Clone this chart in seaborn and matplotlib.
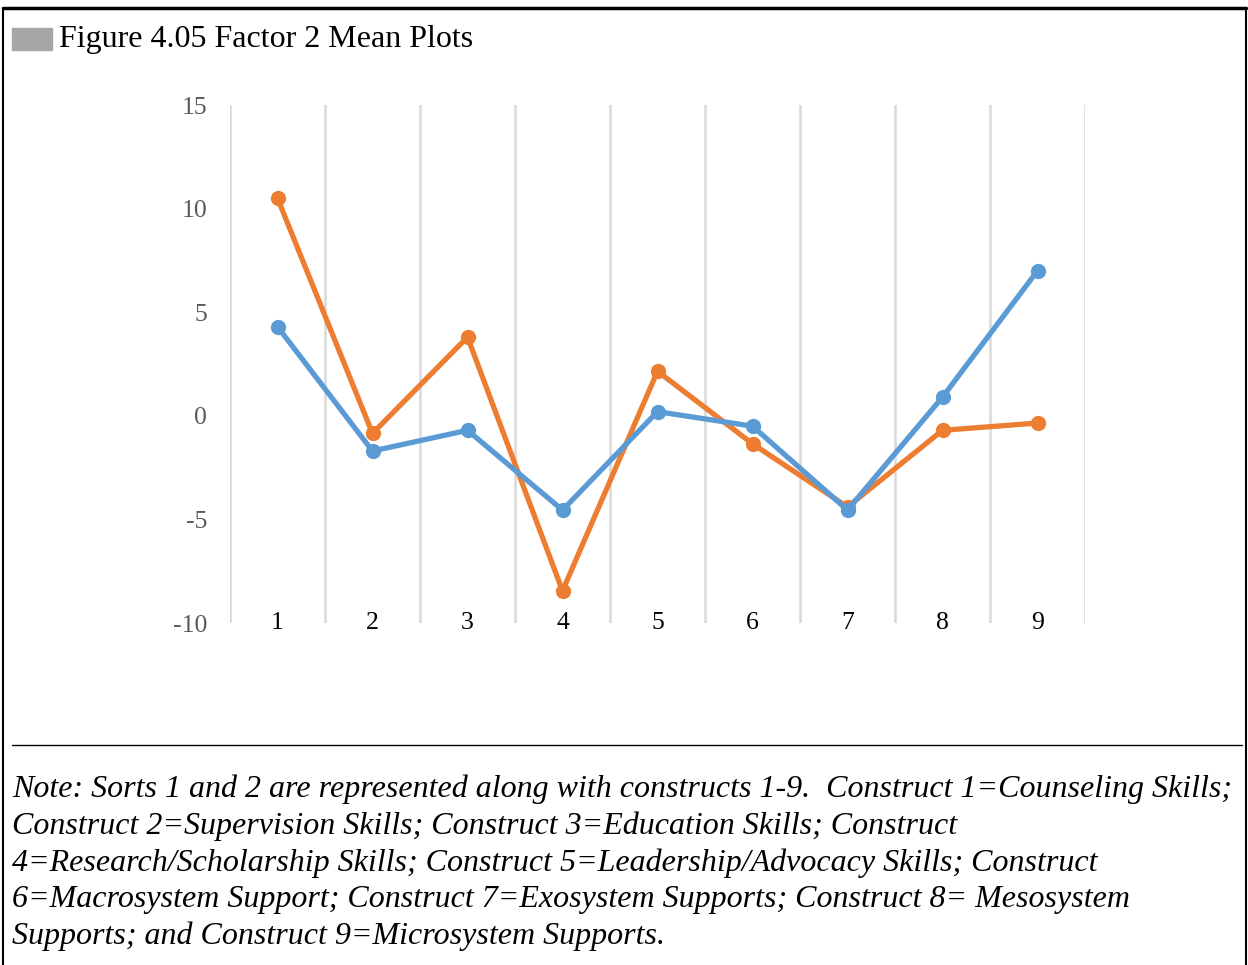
import pandas as pd
import matplotlib.pyplot as plt
import seaborn as sns
from matplotlib.patches import Rectangle
from matplotlib.lines import Line2D

# Data
constructs = ['1', '2', '3', '4', '5', '6', '7', '8', '9']
sort1 = [4.3, -1.7, -0.7, -4.55, 0.2, -0.5, -4.55, 0.9, 7.0]    # blue
sort2 = [10.5, -0.85, 3.8, -8.45, 2.15, -1.35, -4.4, -0.7, -0.35]  # orange
yticks = [15, 10, 5, 0, -5, -10]

title = 'Figure 4.05 Factor 2 Mean Plots'
note = ('Note: Sorts 1 and 2 are represented along with constructs 1-9.  Construct 1=Counseling Skills;\n'
        'Construct 2=Supervision Skills; Construct 3=Education Skills; Construct\n'
        '4=Research/Scholarship Skills; Construct 5=Leadership/Advocacy Skills; Construct\n'
        '6=Macrosystem Support; Construct 7=Exosystem Supports; Construct 8= Mesosystem\n'
        'Supports; and Construct 9=Microsystem Supports.')

df = pd.DataFrame({'Construct': constructs * 2,
                   'Mean': sort1 + sort2,
                   'Sort': ['Sort 1'] * 9 + ['Sort 2'] * 9})
df['pos'] = df['Construct'].astype(int) - 1

sns.set_style('white')
plt.rcParams['font.family'] = ['Liberation Serif', 'DejaVu Serif']
plt.rcParams['text.color'] = 'black'

W, H = 1248, 965
fig = plt.figure(figsize=(12.48, 9.65), dpi=100)
ax = fig.add_axes([230 / W, 1 - 623 / H, (1085 - 230) / W, (623 - 105) / H])

palette = {'Sort 2': '#ED7D31', 'Sort 1': '#5B9BD5'}
sns.lineplot(data=df, x='pos', y='Mean', hue='Sort', hue_order=['Sort 2', 'Sort 1'],
             palette=palette, marker='o', markersize=11, markeredgewidth=0,
             linewidth=3.8, legend=False, ax=ax)

ax.set_xlim(-0.5, 8.5)
ax.set_ylim(-10, 15)
for b in range(10):
    ax.axvline(b - 0.5, color='#d9d9d9', lw=1.8, zorder=0)
ax.set_xticks(range(9))
ax.set_xticklabels(constructs, fontsize=18.5, color='black')
ax.set_yticks(yticks)
ax.set_yticklabels([str(v) for v in yticks], fontsize=18.5, color='#595959')
ax.tick_params(axis='x', length=0, pad=-8)
ax.tick_params(axis='y', length=0, pad=16.5)
ax.set_xlabel('')
ax.set_ylabel('')
for s in ax.spines.values():
    s.set_visible(False)

# Title block with grey swatch
fig.patches.append(Rectangle((12 / W, 1 - 50 / H), 40 / W, 22 / H,
                             transform=fig.transFigure, color='#a6a6a6'))
fig.text(59 / W, 1 - 40 / H, title, fontsize=23, va='center', ha='left', color='black')

# Frame and separator rule
fig.add_artist(Line2D([3 / W, 1246 / W], [1 - 8 / H, 1 - 8 / H], color='black', lw=2.5))
fig.add_artist(Line2D([3 / W, 3 / W], [0, 1 - 8 / H], color='black', lw=1.5))
fig.add_artist(Line2D([1246 / W, 1246 / W], [0, 1 - 8 / H], color='black', lw=1.5))
fig.add_artist(Line2D([12 / W, 1242 / W], [1 - 745 / H, 1 - 745 / H], color='black', lw=1))

fig.text(12 / W, 1 - 774 / H, note, fontsize=23, style='italic', va='top', ha='left',
         linespacing=1.335, color='black')

plt.savefig('out.png', dpi=100)
